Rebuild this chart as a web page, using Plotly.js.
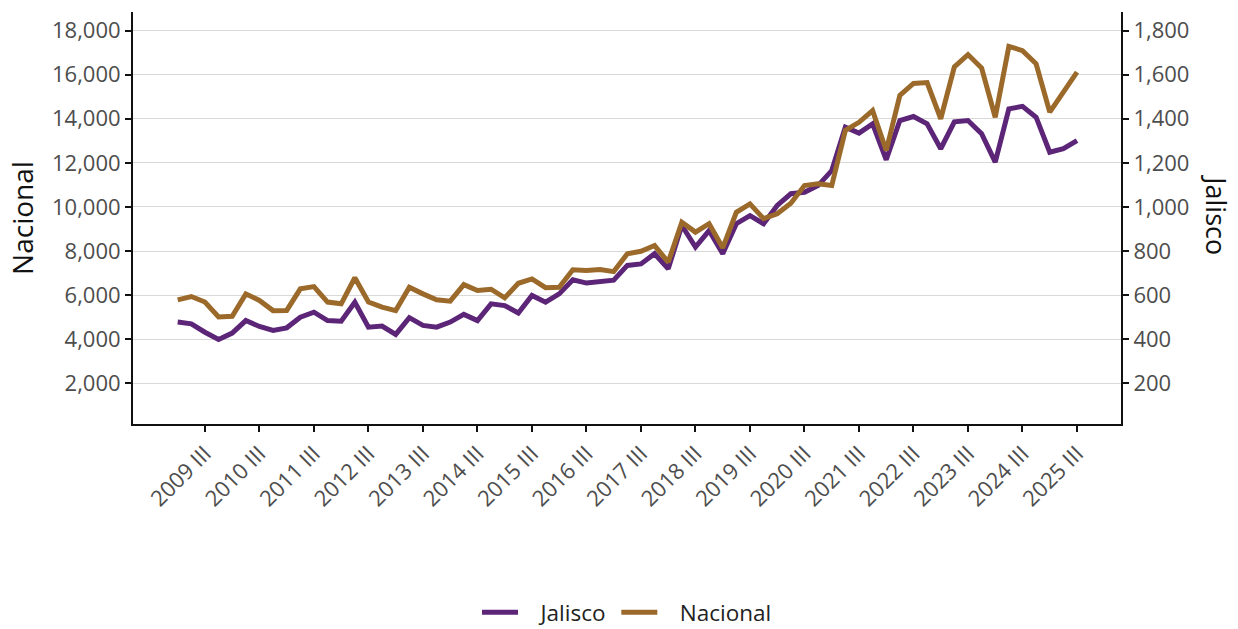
<!DOCTYPE html>
<html>
<head>
<meta charset="utf-8">
<script src="https://cdn.plot.ly/plotly-3.0.1.min.js"></script>
<style>html,body{margin:0;padding:0;background:#fff;}#chart{width:1238px;height:629px;}</style>
</head>
<body>
<div id="chart"></div>
<script>
// Quarters: 2009 I .. 2025 III
const years = [2009,2010,2011,2012,2013,2014,2015,2016,2017,2018,2019,2020,2021,2022,2023,2024,2025];
const quarterNames = ["I","II","III","IV"];
const periods = [];
years.forEach(y => quarterNames.forEach(q => { if (!(y === 2025 && q === "IV")) periods.push(y + " " + q); }));

const tickLabels = ["2009 III","2010 III","2011 III","2012 III","2013 III","2014 III","2015 III","2016 III","2017 III","2018 III","2019 III","2020 III","2021 III","2022 III","2023 III","2024 III","2025 III"];

const nacional = [5790,5940,5690,5010,5040,6060,5760,5300,5310,6290,6390,5690,5610,6790,5690,5460,
  5300,6360,6060,5790,5730,6480,6210,6270,5880,6540,6740,6340,6360,7150,7120,7160,
  7070,7880,7990,8250,7500,9310,8860,9240,8150,9760,10140,9470,9690,10170,10970,11050,
  10970,13470,13840,14370,12560,15060,15600,15640,14000,16350,16910,16300,14070,17280,17090,16490,
  14300,15200,16110];

const jalisco = [478,470,432,399,428,485,458,440,452,500,523,485,482,568,455,460,
  422,498,463,455,478,513,485,561,553,519,599,568,606,670,655,664,
  668,735,742,788,720,916,818,893,788,924,961,924,1007,1060,1067,1097,
  1165,1362,1335,1377,1214,1392,1410,1377,1264,1386,1392,1332,1203,1445,1456,1407,
  1248,1264,1301];

const nacTicks = [2000,4000,6000,8000,10000,12000,14000,16000,18000];
const jalTicks = [200,400,600,800,1000,1200,1400,1600,1800];

const purple = "#5c2577";
const brown = "#9b6a2b";
const FONT = "Open Sans, Noto Sans, sans-serif";
const tickFont = {family: FONT, size: 22, color: "#4d4d4d"};
const PAD = "\u00a0\u00a0\u00a0";

const traces = [
  {x: periods, y: jalisco, name: PAD + "Jalisco" + "\u00a0", type: "scatter", mode: "lines",
   line: {color: purple, width: 5}, yaxis: "y"},
  {x: periods, y: nacional, name: PAD + "Nacional", type: "scatter", mode: "lines",
   line: {color: brown, width: 5}, yaxis: "y2"}
];

const layout = {
  width: 1238, height: 629,
  margin: {l: 133, r: 117, t: 12, b: 205},
  paper_bgcolor: "#fff", plot_bgcolor: "#fff",
  showlegend: true,
  legend: {orientation: "h", xref: "paper", yref: "container", x: 0.5, xanchor: "center",
           y: 0.026, yanchor: "middle", itemwidth: 36,
           font: {family: FONT, size: 22.5, color: "#222"}},
  xaxis: {type: "category", range: [-3.28, 69.23], tickvals: tickLabels, ticktext: tickLabels,
          tickangle: -45, tickfont: tickFont, showline: true, linecolor: "#111", linewidth: 2,
          ticks: "outside", ticklen: 6, tickwidth: 2, tickcolor: "#111", showgrid: false, zeroline: false},
  yaxis: {side: "right", range: [16, 1884], tickvals: jalTicks, tickformat: ",d", tickfont: tickFont,
          showline: true, linecolor: "#111", linewidth: 2, ticks: "outside", ticklen: 6, tickwidth: 2,
          tickcolor: "#111", showgrid: true, gridcolor: "#d9d9d9", gridwidth: 1, zeroline: false},
  yaxis2: {side: "left", overlaying: "y", range: [160, 18840], tickvals: nacTicks, tickformat: ",d",
           tickfont: tickFont, showline: true, linecolor: "#111", linewidth: 2, ticks: "outside",
           ticklen: 6, tickwidth: 2, tickcolor: "#111", showgrid: false, zeroline: false,
           title: {text: "Nacional", standoff: 10, font: {family: FONT, size: 28, color: "#111"}}},
  annotations: [
    {text: "Jalisco", xref: "paper", yref: "paper", x: 1.097, y: 0.507, textangle: 90,
     showarrow: false, xanchor: "center", yanchor: "middle",
     font: {family: FONT, size: 27, color: "#111"}}
  ]
};

Plotly.newPlot("chart", traces, layout, {displayModeBar: false, responsive: false});
</script>
</body>
</html>
